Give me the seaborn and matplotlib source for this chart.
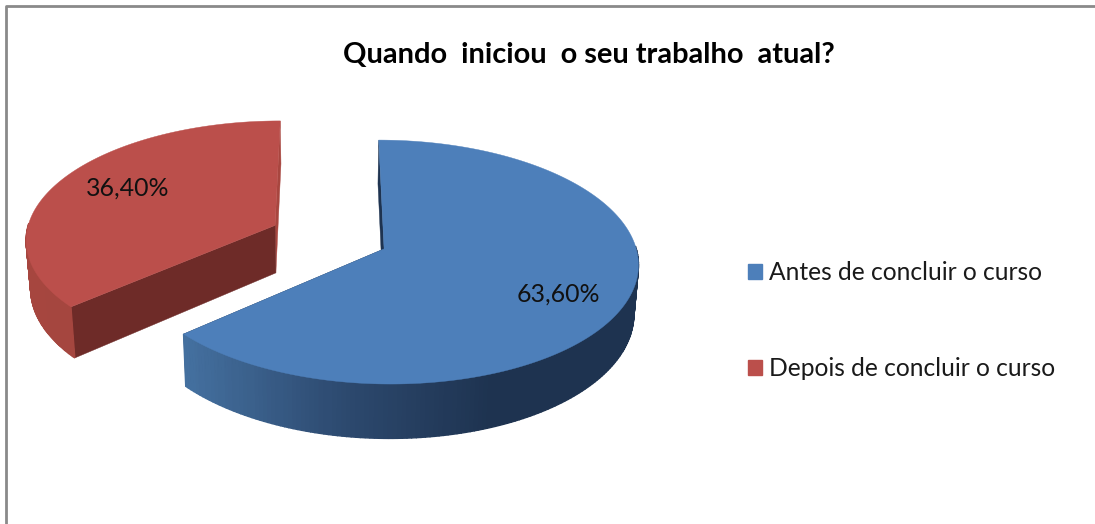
import numpy as np
import seaborn as sns
from matplotlib import pyplot as plt
from matplotlib.patches import Patch, Polygon
from matplotlib.lines import Line2D

title = 'Quando  iniciou  o seu trabalho  atual?'
categories = ['Antes de concluir o curso', 'Depois de concluir o curso']
shares = [63.6, 36.4]
explode = [0.24, 0.24]

top_colors = sns.color_palette(['#4d7fba', '#bb4f4b'])
wall_ramps = [['#44709f', '#2d4a70', '#1e3350'], ['#a6463f', '#9e433d']]
cut_colors = [['#1e3350', '#1e3350'], ['#a8463f', '#6e2b28']]

# fake 3d: centre of the pie on screen, radii in pixels, perspective, thickness
X0, Y0 = 329, 237
RX, RY = 249.5, 118
PERSP = 0.107
DEPTH = 48
SHRINK = 0.985


def project(u, v):
    u, v = np.asarray(u, float), np.asarray(v, float)
    w = 1 + PERSP * v
    return X0 + RX * u / w, Y0 - RY * v / w, w


def lower(x, y, w):
    return X0 + SHRINK * (x - X0), y + DEPTH / w


sns.set_theme(style='white')
plt.rcParams['font.family'] = ['Lato', 'DejaVu Sans']

fig = plt.figure(figsize=(10.95, 5.24), dpi=100)
ax = fig.add_axes([0, 0, 1, 1])

wedges, texts, autotexts = ax.pie(
    shares, explode=explode, colors=top_colors, startangle=90, counterclock=False,
    autopct=lambda p: f'{p:.2f}'.replace('.', ',') + '%', pctdistance=0.72,
)
ax.set_aspect('auto')
ax.set_xlim(0, 1095)
ax.set_ylim(524, 0)
ax.axis('off')

for wedge, color, ramp, cuts in zip(wedges, top_colors, wall_ramps, cut_colors):
    wedge.set_visible(False)
    cu, cv = wedge.center
    angles = np.radians(np.linspace(wedge.theta1, wedge.theta2, 241))
    u = cu + wedge.r * np.cos(angles)
    v = cv + wedge.r * np.sin(angles)
    x, y, w = project(u, v)
    bx, by = lower(x, y, w)
    ax_, ay_, aw_ = project(cu, cv)
    abx, aby = lower(ax_, ay_, aw_)

    # flat cut faces
    for i, c in zip([0, -1], cuts):
        ax.add_patch(Polygon([(ax_, ay_), (x[i], y[i]), (bx[i], by[i]), (abx, aby)],
                             fc=c, ec=c, lw=0.3, zorder=2))

    # outer wall, only the part facing the viewer, colour runs with the screen position
    pal = sns.blend_palette(ramp, 64)
    for i in range(len(x) - 1):
        if np.sin(angles[i]) > 0.02:
            continue
        k = int(np.clip((x[i] - x.min()) / 305, 0, 1) * 63)
        ax.add_patch(Polygon([(x[i], y[i]), (x[i + 1], y[i + 1]), (bx[i + 1], by[i + 1]), (bx[i], by[i])],
                             fc=pal[k], ec=pal[k], lw=1, zorder=3))

    ax.add_patch(Polygon(np.r_[[(ax_, ay_)], np.c_[x, y]], fc=color, ec=color, lw=0.3, zorder=4))

label_nudge = [(2, 8), (8, -4)]
for t, (dx, dy) in zip(autotexts, label_nudge):
    px, py, _ = project(*t.get_position())
    t.set_position((float(px) + dx, float(py) + dy))
    t.set_fontsize(17.9)
    t.set_color('#111111')
    t.set_zorder(5)

ax.text(588.5, 55, title, ha='center', va='center', fontsize=20.9, fontweight='bold', color='black')

handles = [Patch(fc=c, ec=c) for c in top_colors]
ax.legend(handles, categories, loc='center left', bbox_to_anchor=(748 / 1095, 1 - 320.5 / 524),
          frameon=False, fontsize=17.7, handlelength=0.57, handleheight=0.57, handletextpad=0.29,
          labelspacing=2.98, labelcolor='#1a1a1a', borderpad=0, borderaxespad=0)

# chart frame, only top and left are inside the crop
ax.add_line(Line2D([1095, 6, 6], [6, 6, 524], color='#8a8a8a', lw=2))

fig.savefig('out.png', dpi=100)
